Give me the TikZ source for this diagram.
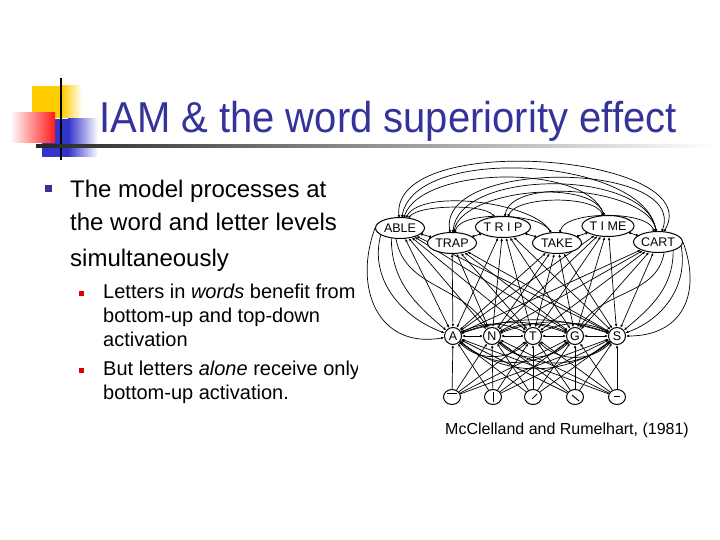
\documentclass[tikz,border=0pt]{standalone}
\usepackage{fontspec}
\setmainfont{Liberation Sans}
\usetikzlibrary{arrows.meta,shapes.geometric,backgrounds}
\definecolor{TitleBlue}{HTML}{333399}
\definecolor{LogoYellow}{HTML}{FFCC00}
\definecolor{LogoRed}{HTML}{FF1A1A}
\definecolor{LogoBlue}{HTML}{3333CC}
\definecolor{BulletRed}{HTML}{DD0000}

\tikzset{
  body/.style={anchor=base west,inner sep=0pt,font=\fontsize{24}{24}\selectfont},
  subbody/.style={anchor=base west,inner sep=0pt,font=\fontsize{20}{20}\selectfont},
  wordnode/.style={draw,ellipse,line width=1pt,minimum width=49pt,minimum height=21pt,inner sep=0pt,fill=white,font=\fontsize{12.5}{12.5}\selectfont},
  letternode/.style={draw,circle,line width=1pt,minimum size=17pt,inner sep=0pt,fill=white,font=\fontsize{12.5}{12.5}\selectfont},
  featnode/.style={draw,ellipse,line width=1pt,minimum width=17pt,minimum height=15pt,inner sep=0pt,fill=white},
  link/.style={line width=0.7pt},
  excite/.style={link,-{Latex[length=3pt,width=2.6pt]}},
  both/.style={link,{Latex[length=3pt,width=2.6pt]}-{Latex[length=3pt,width=2.6pt]}},
  inhib/.style={link,{Circle[length=2.4pt]}-{Circle[length=2.4pt]}},
}

\begin{document}
\begin{tikzpicture}[x=1pt,y=1pt]
  \useasboundingbox (0,0) rectangle (720,-540);
  % logo
  \fill[LogoYellow] (32,-86) rectangle (62,-118);
  \shade[left color=LogoYellow,right color=white] (62,-86) rectangle (82,-118);
  \fill[LogoBlue] (42,-119) rectangle (68,-157);
  \shade[left color=LogoBlue,right color=white] (68,-119) rectangle (98,-157);
  \shade[left color=white,right color=LogoRed] (10,-113) rectangle (55,-143);
  \draw[line width=1.6pt] (61,-78) -- (61,-160);
  \shade[left color=black!85,right color=white] (36,-144.5) rectangle (716,-147.5);
  % title
  \node[anchor=base west,inner sep=0pt,text=TitleBlue,font=\fontsize{40}{40}\selectfont,yscale=1.08]
    (title) at (99,-133) {IAM \& the word superiority effect};

  % bullets
  \fill[TitleBlue] (45,-185) rectangle (52,-192);
  \node[body] (txt1) at (70,-198) {The model processes at};
  \node[body] (txt2) at (70,-230) {the word and letter levels};
  \node[body] (txt3) at (70,-266) {simultaneously};
  \fill[BulletRed] (79,-291) rectangle (84,-296);
  \node[subbody] (sub1) at (103,-298) {Letters in \textit{words} benefit from};
  \node[subbody] (sub2) at (103,-322) {bottom-up and top-down};
  \node[subbody] (sub3) at (103,-346) {activation};
  \fill[BulletRed] (79,-368) rectangle (84,-373);
  \begin{scope}
    \clip (0,-355) rectangle (357,-385);
    \node[subbody] (sub4) at (103,-375) {But letters \textit{alone} receive only};
  \end{scope}
  \node[subbody] (sub5) at (103,-399) {bottom-up activation.};

  % network: words
  \node[wordnode] (able) at (400,-228) {ABLE};
  \node[wordnode] (trip) at (503,-227) {T R I P};
  \node[wordnode] (time) at (608,-226) {T I ME};
  \node[wordnode] (trap) at (452,-243) {TRAP};
  \node[wordnode] (take) at (557,-243) {TAKE};
  \node[wordnode] (cart) at (658,-242) {CART};
  % letters
  \node[letternode] (a) at (453,-336) {A};
  \node[letternode] (n) at (492,-336) {N};
  \node[letternode] (t) at (533,-336) {T};
  \node[letternode] (g) at (575,-336) {G};
  \node[letternode] (s) at (617,-336) {S};
  % features
  \node[featnode] (f1) at (452,-397) {};
  \node[featnode] (f2) at (493,-397) {};
  \node[featnode] (f3) at (533,-397) {};
  \node[featnode] (f4) at (575,-397) {};
  \node[featnode] (f5) at (617,-397) {};
  \draw[line width=1pt] ([shift={(-5,4)}]f1.center) -- ([shift={(5,4)}]f1.center);
  \draw[line width=1pt] ([shift={(0,-5)}]f2.center) -- ([shift={(0,5)}]f2.center);
  \draw[line width=1pt] ([shift={(-1,-2)}]f3.center) -- ([shift={(4,3)}]f3.center);
  \draw[line width=1pt] ([shift={(-3,2)}]f4.center) -- ([shift={(4,-4)}]f4.center);
  \draw[line width=1pt] ([shift={(-3,1)}]f5.center) -- ([shift={(3,1)}]f5.center);

  \begin{scope}[on background layer]
    % word to word
    \foreach \p/\q in {able/trap,trap/trip,trip/take,take/time,time/cart}
      \draw[inhib] (\p) -- (\q);
    \foreach \p/\q/\oa/\ob/\l in {able/cart/80/100/0.75,able/time/70/110/0.7,
        able/take/60/120/0.6,able/trip/50/130/0.5,trap/cart/85/100/0.8,
        trap/time/80/110/0.7,trap/take/75/120/0.6,trip/cart/80/100/0.7,
        trip/time/65/115/0.6,take/cart/75/110/0.6,able/cart/95/60/0.85,
        trap/cart/100/70/0.9}
      \draw[inhib] (\p.\oa) to[out=\oa,in=\ob,looseness=\l] (\q.\ob);
    % word to letter
    \foreach \w in {able,trap,trip,take,time,cart}
      \foreach \l in {a,n,t,g,s}
        \draw[both] (\w) -- (\l);
    \draw[excite] (able.200) to[out=-105,in=160] (a);
    \draw[excite] (able.230) to[out=-90,in=140] (a);
    \draw[excite] (able.250) to[out=-80,in=120] (n);
    \draw[excite] (able.180) to[out=-110,in=190,looseness=1.3] (a);
    \draw[excite] (cart.-10) to[out=-80,in=20] (s);
    \draw[excite] (cart.-30) to[out=-90,in=40] (s);
    \draw[excite] (cart.-60) to[out=-100,in=60] (g);
    \draw[excite] (cart.0) to[out=-70,in=0,looseness=1.3] (s);
    % letter to letter
    \foreach \p/\q in {a/n,n/t,t/g,g/s}
      \draw[both] (\p) -- (\q);
    \foreach \p/\q/\b in {a/t/25,a/g/20,a/s/18,n/g/25,n/s/20,t/s/25}
      \draw[inhib] (\p) to[bend left=\b] (\q);
    \foreach \p/\q/\b in {a/t/45,a/g/40,a/s/38,n/g/45,n/s/40,t/s/45}
      \draw[inhib] (\p) to[bend right=\b] (\q);
    % feature to letter
    \foreach \f in {f1,f2,f3,f4,f5}
      \foreach \l in {a,n,t,g,s}
        \draw[excite] (\f) -- (\l);
  \end{scope}

  % citation
  \node[anchor=base west,inner sep=0pt,font=\fontsize{16}{16}\selectfont]
    (cite) at (445,-434) {McClelland and Rumelhart, (1981)};
\end{tikzpicture}
\end{document}
